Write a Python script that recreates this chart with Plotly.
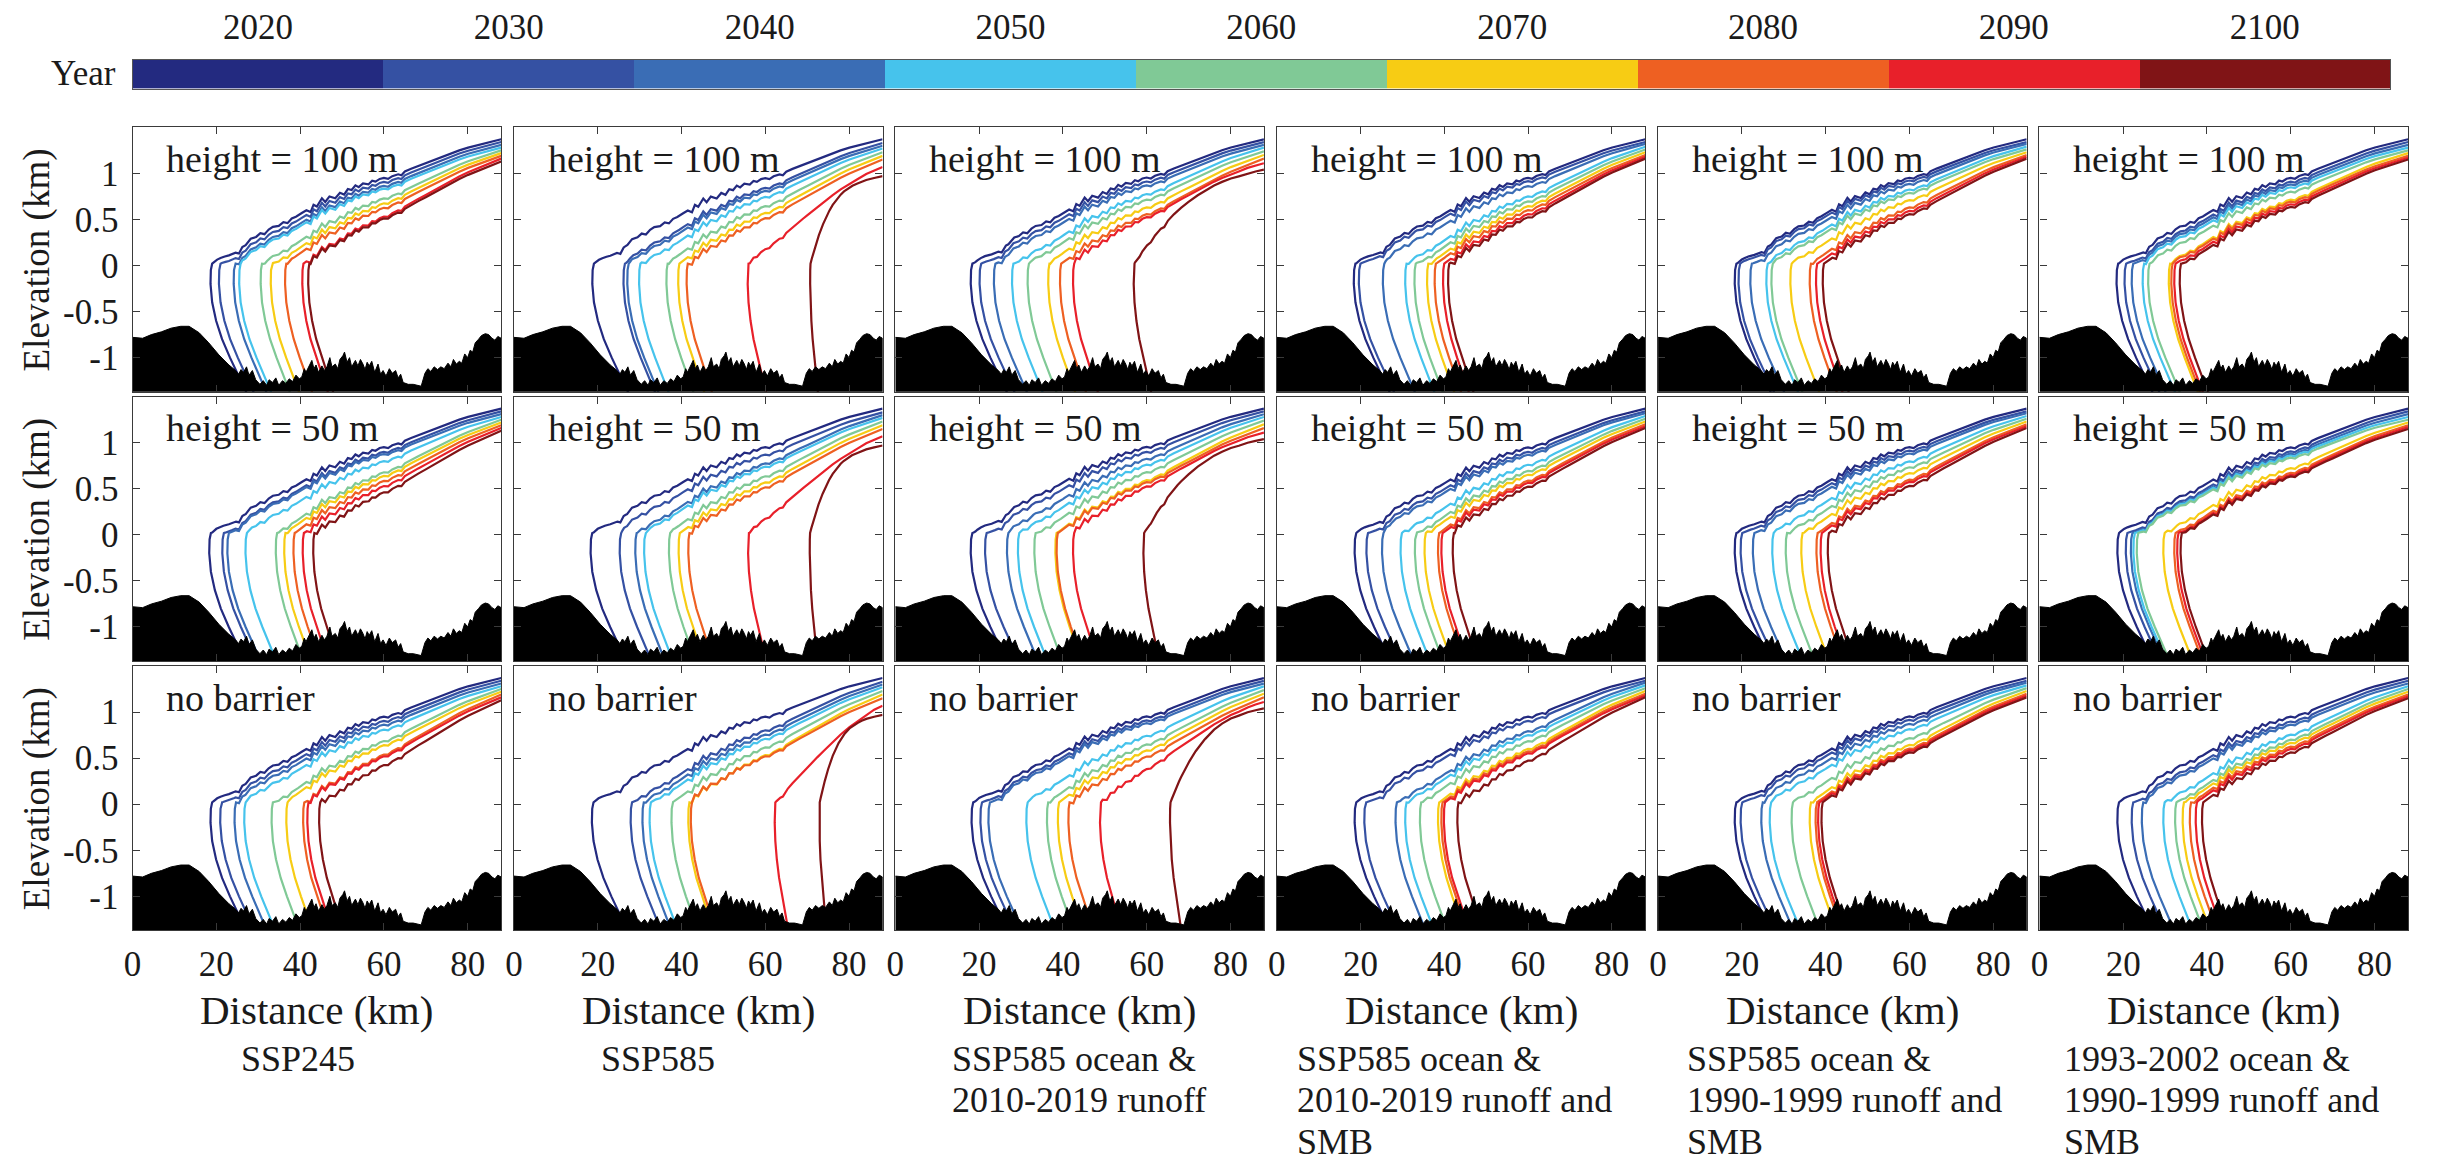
import numpy as np
import plotly.graph_objects as go

# ---------------- data ----------------
YEARS = [2020, 2030, 2040, 2050, 2060, 2070, 2080, 2090, 2100]
YEAR_COLORS = ["#232a80", "#3551a3", "#3a6db5", "#46c3ec", "#80c996",
               "#f7cc14", "#ee6022", "#e8202a", "#801416"]

ROW_LABELS = ["height = 100 m", "height = 50 m", "no barrier"]
SCENARIOS = [
    ["SSP245"],
    ["SSP585"],
    ["SSP585 ocean &", "2010-2019 runoff"],
    ["SSP585 ocean &", "2010-2019 runoff and", "SMB"],
    ["SSP585 ocean &", "1990-1999 runoff and", "SMB"],
    ["1993-2002 ocean &", "1990-1999 runoff and", "SMB"],
]
X_TICKS = [0, 20, 40, 60, 80]
Y_TICKS = [-1, -0.5, 0, 0.5, 1]
Y_TICK_TEXT = ["-1", "-0.5", "0", "0.5", "1"]

# bedrock elevation (km) along the flowline (km)
BED_X = [0, 2.4, 4.5, 6.9, 9.2, 11.5, 13.5, 15.9, 18.2, 20.6, 23, 24.6, 25.3, 25.9,
         26.5, 27.2, 27.8, 28.6, 29.4, 30.4, 31.2, 32.0, 32.6, 33.4, 34.2, 34.9, 35.8,
         36.6, 37.4, 38.2, 39.0, 39.8, 40.4, 41.0, 41.4, 42.0, 42.8, 43.3, 43.8, 44.4,
         45.2, 45.8, 46.4, 47.1, 47.6, 48.4, 49.0, 49.5, 50.2, 50.6, 51.2, 51.8, 52.3,
         53.2, 53.8, 54.4, 55.0, 55.5, 56.0, 56.5, 57.1, 57.8, 58.6, 59.2, 59.8, 60.5,
         61.3, 62.0, 62.8, 63.4, 64.0, 64.6, 65.8, 67.0, 68.2, 68.9, 69.8, 70.5, 71.2,
         72.0, 72.8, 73.6, 74.4, 75.3, 76.0, 76.6, 77.3, 78.0, 78.6, 79.3, 80.0, 80.6,
         81.2, 81.8, 82.6, 83.3, 84.2, 85.0, 85.8, 86.5, 87.2, 88]
BED_Z = [-0.78, -0.79, -0.75, -0.72, -0.68, -0.66, -0.66, -0.73, -0.84, -0.97, -1.08,
         -1.14, -1.18, -1.13, -1.16, -1.10, -1.19, -1.14, -1.24, -1.29, -1.25, -1.30,
         -1.24, -1.27, -1.22, -1.30, -1.25, -1.28, -1.23, -1.26, -1.19, -1.23, -1.21,
         -1.12, -1.16, -1.10, -1.03, -1.12, -1.08, -1.16, -1.09, -1.14, -1.10, -1.00,
         -1.10, -1.07, -1.12, -1.02, -0.98, -0.94, -1.05, -1.00, -1.10, -1.03, -1.09,
         -1.02, -1.07, -1.13, -1.05, -1.09, -1.04, -1.16, -1.07, -1.18, -1.14, -1.20,
         -1.12, -1.17, -1.14, -1.22, -1.18, -1.27, -1.29, -1.29, -1.30, -1.31, -1.17,
         -1.12, -1.15, -1.10, -1.13, -1.10, -1.12, -1.06, -1.10, -1.02, -1.07, -1.04,
         -1.06, -0.96, -1.00, -0.92, -0.94, -0.84, -0.80, -0.76, -0.74, -0.75, -0.79,
         -0.81, -0.77, -0.79]

# 2020 reference surface elevation (km)
BASE_X = [18, 19, 20, 21.4, 23, 24.6, 25.4, 26.2, 27, 28.2, 29.5, 30.5, 31.5, 32.5,
          33.5, 34.9, 36, 37, 38, 39, 40.4, 41.5, 42.5, 43.2, 44, 45.2, 46, 47, 48.4,
          49.5, 50.5, 51.4, 52.3, 53.2, 54, 55, 56.3, 57.2, 58, 59, 60, 61, 62, 63.4,
          64.2, 65, 66.5, 68.2, 70, 72.2, 74, 76.1, 78, 80.1, 82, 84.1, 86, 88]
BASE_Z = [0.0, 0.02, 0.06, 0.09, 0.11, 0.14, 0.13, 0.20, 0.22, 0.29, 0.31, 0.35,
          0.34, 0.39, 0.42, 0.43, 0.47, 0.46, 0.51, 0.53, 0.57, 0.60, 0.58, 0.66,
          0.64, 0.73, 0.69, 0.75, 0.73, 0.79, 0.77, 0.83, 0.82, 0.87, 0.85, 0.89,
          0.88, 0.92, 0.91, 0.94, 0.95, 0.94, 0.97, 0.99, 0.98, 1.02, 1.05, 1.08,
          1.11, 1.15, 1.18, 1.22, 1.25, 1.28, 1.30, 1.33, 1.35, 1.37]

# calving-front face shape (offset from the front, km) vs elevation (km)
FACE_DX = [0.0, -0.2, -0.25, 0.0, 0.6, 1.5, 2.7, 4.0, 6.0]
FACE_Z = [0.02, -0.05, -0.2, -0.4, -0.6, -0.8, -1.0, -1.2, -1.5]
# how strongly the face leans, depending on where the front sits (km)
FACE_LEAN_X = [18, 30, 45, 56, 72]
FACE_LEAN = [1.6, 1.3, 1.05, 0.8, 0.3]

# front positions (km) per row (barrier case) and column (scenario), years 2020..2100
FRONTS_100M = [
    [19.0, 21.0, 24.5, 25.8, 30.9, 33.3, 36.7, 40.8, 42.2],
    [19.1, 26.5, 27.4, 30.2, 36.7, 39.5, 41.5, 56.0, 70.8],
    [18.4, 20.5, 23.9, 28.2, 31.9, 36.8, 39.6, 42.7, 57.1],
    [18.8, 20.0, 25.7, 31.0, 33.2, 36.2, 38.0, 40.0, 41.2],
    [18.7, 19.6, 22.4, 26.2, 27.4, 31.9, 36.5, 38.0, 39.6],
    [18.8, 20.7, 22.4, 25.0, 26.3, 31.2, 31.8, 32.5, 33.8],
]
FRONTS_50M = [
    [18.7, 21.8, 23.0, 27.3, 34.5, 36.5, 38.7, 40.9, 43.4],
    [18.7, 25.6, 29.3, 31.4, 37.3, 39.6, 41.9, 56.1, 70.7],
    [18.4, 21.8, 27.0, 29.6, 33.5, 38.5, 38.8, 42.7, 59.4],
    [19.0, 21.8, 25.5, 29.9, 33.3, 35.6, 38.8, 39.6, 42.3],
    [18.7, 20.1, 23.0, 27.6, 30.8, 34.5, 38.1, 39.1, 40.8],
    [19.0, 21.0, 22.2, 22.8, 23.6, 29.9, 32.5, 33.2, 34.0],
]
FRONTS_NOBARRIER = [
    [19.0, 21.3, 24.7, 27.0, 33.5, 37.0, 41.0, 42.0, 44.8],
    [19.0, 28.2, 31.0, 32.7, 37.9, 41.9, 42.5, 62.4, 73.0],
    [18.6, 20.7, 22.6, 31.6, 36.5, 39.1, 41.6, 49.1, 65.7],
    [19.0, 21.3, 28.7, 31.0, 34.5, 38.8, 39.6, 40.2, 43.4],
    [18.7, 20.1, 25.0, 27.0, 32.2, 36.5, 37.9, 38.5, 39.3],
    [19.0, 22.4, 24.8, 29.9, 32.7, 34.5, 36.2, 37.6, 39.1],
]
FRONTS = [FRONTS_100M, FRONTS_50M, FRONTS_NOBARRIER]

# thinning (km) at the upstream end (88 km) per column, years 2020..2100
END_THIN = [
    [0.0, 0.03, 0.06, 0.09, 0.12, 0.15, 0.18, 0.21, 0.24],
    [0.0, 0.04, 0.07, 0.10, 0.14, 0.18, 0.22, 0.30, 0.40],
    [0.0, 0.03, 0.06, 0.09, 0.13, 0.17, 0.21, 0.26, 0.33],
    [0.0, 0.03, 0.05, 0.08, 0.11, 0.14, 0.17, 0.19, 0.21],
    [0.0, 0.03, 0.05, 0.08, 0.11, 0.14, 0.17, 0.19, 0.21],
    [0.0, 0.03, 0.06, 0.09, 0.12, 0.15, 0.18, 0.20, 0.22],
]
# how quickly the thinning relaxes upstream of the front (1 = linearly)
THIN_SHAPE = [
    [1, 1, 1, 1, 1, 1, 1, 1, 1],
    [1, 1, 1, 1, 1, 1, 1, 1.3, 4.0],
    [1, 1, 1, 1, 1, 1, 1, 1.4, 3.4],
    [1, 1, 1, 1, 1, 1, 1, 1, 1],
    [1, 1, 1, 1, 1, 1, 1, 1, 1],
    [1, 1, 1, 1, 1, 1, 1, 1, 1],
]
NEAR_FRONT_DX = [0.3, 0.7, 1.2, 2.0, 3.0, 4.5, 6.0, 8.0, 10.0, 13.0]
X_END = 88.0

# ---------------- layout geometry (window pixels) ----------------
WIN_W, WIN_H = 2438, 1175
OX, OY = 14, 13              # where the plot div starts inside the page
W, H = WIN_W - OX - 8, WIN_H - OY - 2
COL_LEFT0, COL_STEP, PW = 130, 382.8, 370
ROW_TOP0, ROW_STEP, PH = 126, 271, 266
FONT = "Liberation Serif"
TXT = "#1a1a1a"
AX = "#3a3a3a"


def px(xp):
    return (xp - OX) / W


def py(yp):
    return 1 - (yp - OY) / H


def profile(xf, T, q):
    bx = np.array(BASE_X)
    bz = np.array(BASE_Z)
    th0 = float(np.interp(xf, bx, bz)) - 0.02
    pts = [xf] + [x for x in BASE_X if x > xf] + [xf + d for d in NEAR_FRONT_DX if xf + d < X_END]
    xs = np.array(sorted(set(pts)))
    t = (xs - xf) / (X_END - xf)
    w = 1 - (1 - t) ** q
    zs = np.interp(xs, bx, bz) - (th0 + (T - th0) * w)
    lean = float(np.interp(xf, FACE_LEAN_X, FACE_LEAN))
    fx = (xf + lean * np.array(FACE_DX))[::-1]
    fz = np.array(FACE_Z)[::-1]
    return np.concatenate([fx, xs[1:]]), np.concatenate([fz, zs[1:]])


fig = go.Figure()
layout = {}
annotations = []


def label(text, x, y, size, xanchor="left", align="left", **kw):
    annotations.append(dict(
        text=text, x=px(x), y=py(y), xref="paper", yref="paper",
        xanchor=xanchor, yanchor="middle", align=align, showarrow=False,
        borderpad=0, font=dict(family=FONT, size=size, color=TXT), **kw))


for r in range(3):
    for c in range(6):
        k = r * 6 + c + 1
        xa = "x" if k == 1 else f"x{k}"
        ya = "y" if k == 1 else f"y{k}"
        for i, yr in enumerate(YEARS):
            xs, zs = profile(FRONTS[r][c][i], END_THIN[c][i], THIN_SHAPE[c][i])
            fig.add_trace(go.Scatter(
                x=xs, y=zs, mode="lines", xaxis=xa, yaxis=ya,
                line=dict(color=YEAR_COLORS[i], width=2.2),
                showlegend=False, hoverinfo="skip"))
        fig.add_trace(go.Scatter(
            x=BED_X + [X_END, 0], y=BED_Z + [-2.0, -2.0], mode="lines",
            fill="toself", fillcolor="black", line=dict(color="black", width=1),
            xaxis=xa, yaxis=ya, showlegend=False, hoverinfo="skip"))

        left = COL_LEFT0 + c * COL_STEP
        top = ROW_TOP0 + r * ROW_STEP
        common = dict(showgrid=False, zeroline=False, showline=True, mirror="ticks",
                      linecolor=AX, linewidth=1.3, ticks="inside", ticklen=7,
                      tickwidth=1.2, tickcolor=AX,
                      tickfont=dict(family=FONT, size=35, color=TXT))
        xkey = "xaxis" if k == 1 else f"xaxis{k}"
        ykey = "yaxis" if k == 1 else f"yaxis{k}"
        layout[xkey] = dict(common, domain=[px(left), px(left + PW)], range=[0, X_END],
                            tickvals=X_TICKS, anchor=ya, showticklabels=(r == 2),
                            ticklabelstandoff=2)
        layout[ykey] = dict(common, domain=[py(top + PH), py(top)], range=[-1.37, 1.5],
                            tickvals=Y_TICKS, ticktext=Y_TICK_TEXT, anchor=xa,
                            showticklabels=(c == 0), ticklabelstandoff=6)
        label(ROW_LABELS[r], left + 33, top + 32, 38)

# row titles
for r in range(3):
    cy = ROW_TOP0 + r * ROW_STEP + PH / 2
    label("Elevation (km)", 34, cy, 37, xanchor="center", align="center", textangle=-90)

# column titles
SCEN_LEFT = [238, 599, 951, 1298, 1689, 2068]
for c in range(6):
    cx = COL_LEFT0 + c * COL_STEP + PW / 2
    label("Distance (km)", cx, 1014, 41, xanchor="center", align="center")
    for j, line in enumerate(SCENARIOS[c]):
        label(line, SCEN_LEFT[c], 1063 + 42 * j, 36)

# discrete year colour bar
cb_scale = []
n = len(YEARS)
for i, col in enumerate(YEAR_COLORS):
    cb_scale.append([i / n, col])
    cb_scale.append([(i + 1) / n, col])
fig.add_trace(go.Heatmap(
    x=YEARS, y=[0], z=[list(range(n))], zmin=-0.5, zmax=n - 0.5,
    colorscale=cb_scale, showscale=False, xaxis="x19", yaxis="y19",
    hoverinfo="skip", xgap=0))
layout["xaxis19"] = dict(domain=[px(130), px(2396)], range=[2015, 2105], side="top",
                         tickvals=YEARS, ticks="", showgrid=False, zeroline=False,
                         showline=True, mirror=True, linecolor="#555", linewidth=1.2,
                         anchor="y19", ticklabelstandoff=6,
                         tickfont=dict(family=FONT, size=35, color=TXT))
layout["yaxis19"] = dict(domain=[py(87), py(58)], range=[-0.5, 0.5], showticklabels=False,
                         ticks="", showgrid=False, zeroline=False, showline=True,
                         mirror=True, linecolor="#555", linewidth=1.2, anchor="x19")
label("Year", 114, 72, 35, xanchor="right", align="right")

fig.update_layout(
    width=W, height=H, margin=dict(l=0, r=0, t=0, b=0),
    paper_bgcolor="white", plot_bgcolor="white",
    annotations=annotations, showlegend=False, **layout)

fig.write_html("out.html")
